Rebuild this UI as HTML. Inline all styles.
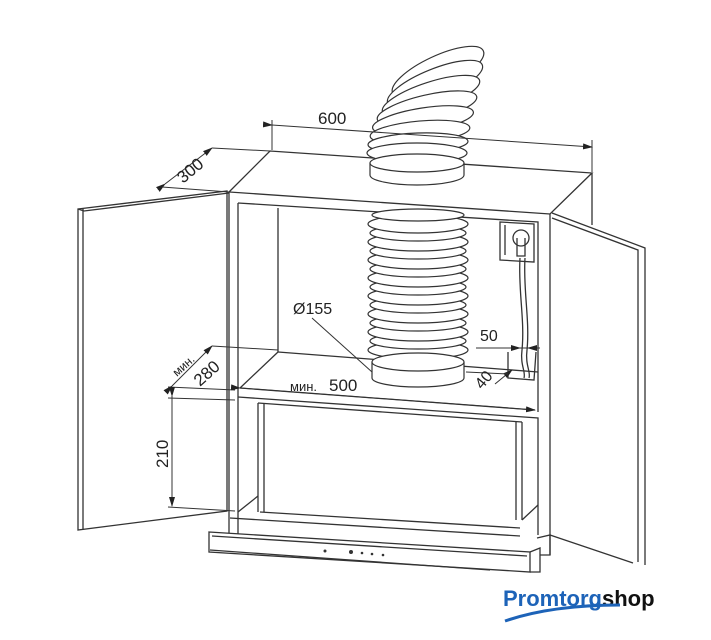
<!DOCTYPE html>
<html><head><meta charset="utf-8"><style>
html,body{margin:0;padding:0;background:#fff;width:711px;height:640px;overflow:hidden}
svg{display:block}
text{font-family:"Liberation Sans",sans-serif;fill:#222}
</style></head><body>
<svg width="711" height="640" viewBox="0 0 711 640" xmlns="http://www.w3.org/2000/svg">
<defs>
<marker id="a" markerWidth="10" markerHeight="6" refX="9" refY="3" orient="auto" markerUnits="userSpaceOnUse"><path d="M0,0 L10,3 L0,6 z" fill="#222"/></marker>
</defs>
<g fill="none" stroke="#333" stroke-width="1.3">
<path d="M229,192 L270,151 L592,173 L550,214 Z" fill="#fff"/>
<path d="M229,192 L229,540"/>
<path d="M550,214 L550,555"/>
<path d="M592,173 L592,225"/>
<path d="M238,203 L538,222 L538,412"/>
<path d="M238,203 L238,540"/>
<path d="M278,208 L278,352"/>
<path d="M278,352 L538,372"/>
<path d="M278,352 L240,388"/>
<path d="M240,388 L535,410"/>
<path d="M238,397 L538,418 L538,535"/>
<path d="M258,403 L258,512"/><path d="M264,403 L264,512"/>
<path d="M258,403 L522,422"/>
<path d="M516,422 L516,520"/><path d="M522,422 L522,520"/>
<path d="M260,512 L520,528" />
<path d="M238,512 L258,496"/>
<path d="M538,505 L522,520"/>
<path d="M209,532 L530,552 L530,572 L209,552 Z" fill="#fff"/>
<path d="M212,536 L527,556"/>
<path d="M210,550 L490,570"/>
<path d="M230,518 L520,536"/>
<path d="M530,552 L540,548 L540,572 L530,572"/>
<path d="M537,538 L550,535 L550,555 L540,555"/>
<path d="M78,209 L227,191 L227,511 L78,530 Z" fill="#fff"/>
<path d="M83,209 L83,530"/>
<path d="M78,209 L84,211 L229,193"/>
<path d="M552,213 L645,248 L645,565"/>
<path d="M552,218 L638,250 L638,562"/>
<path d="M550,535 L633,563"/>
<path d="M500,222 L534,224 L534,262 L500,260 Z"/>
<path d="M505,225 L505,255"/>
<circle cx="521" cy="238" r="8"/>
<path d="M517,238 L517,256 L525,256 L525,238"/>
<path d="M520,258 C518,290 525,320 522,350 C520,365 526,372 524,378"/>
<path d="M525,258 C523,290 530,320 527,350 C525,365 531,372 529,378"/>
<path d="M508,352 L508,378 L534,380 L536,352"/>
</g>
<g fill="#fff" stroke="#333" stroke-width="1.2">
<path d="M372,362 L372,378 A46,9 0 0 0 464,378 L464,362" />
<ellipse cx="418" cy="350" rx="50" ry="9"/>
<ellipse cx="418" cy="341" rx="48" ry="8"/>
<ellipse cx="418" cy="332" rx="50" ry="9"/><ellipse cx="418" cy="323" rx="48" ry="8"/>
<ellipse cx="418" cy="314" rx="50" ry="9"/><ellipse cx="418" cy="305" rx="48" ry="8"/>
<ellipse cx="418" cy="296" rx="50" ry="9"/><ellipse cx="418" cy="287" rx="48" ry="8"/>
<ellipse cx="418" cy="278" rx="50" ry="9"/><ellipse cx="418" cy="269" rx="48" ry="8"/>
<ellipse cx="418" cy="260" rx="50" ry="9"/><ellipse cx="418" cy="251" rx="48" ry="8"/>
<ellipse cx="418" cy="242" rx="50" ry="9"/><ellipse cx="418" cy="233" rx="48" ry="8"/>
<ellipse cx="418" cy="224" rx="50" ry="9"/><ellipse cx="418" cy="215" rx="46" ry="6"/>
<ellipse cx="418" cy="362" rx="46" ry="9"/>
<!-- upper elbow -->
<ellipse cx="438" cy="72" rx="50" ry="16" transform="rotate(-25 438 72)"/>
<ellipse cx="435" cy="84" rx="51" ry="15" transform="rotate(-22 435 84)"/>
<ellipse cx="431" cy="96" rx="51" ry="14" transform="rotate(-18 431 96)"/>
<ellipse cx="427" cy="108" rx="51" ry="13" transform="rotate(-13 427 108)"/>
<ellipse cx="423" cy="120" rx="51" ry="12" transform="rotate(-9 423 120)"/>
<ellipse cx="420" cy="132" rx="50" ry="11" transform="rotate(-5 420 132)"/>
<ellipse cx="418" cy="143" rx="50" ry="10" transform="rotate(-2 418 143)"/>
<ellipse cx="417" cy="153" rx="50" ry="10"/>
<path d="M370,163 L370,175 A47,10 0 0 0 464,175 L464,163" />
<ellipse cx="417" cy="163" rx="47" ry="9"/>
</g>
<g fill="none" stroke="#333" stroke-width="1">
<path d="M272,120 L272,150"/><path d="M592,140 L592,172"/>
<path d="M272,125 L592,147" marker-end="url(#a)" marker-start="url(#a)"/>
<path d="M165,184 L212,148" marker-end="url(#a)" marker-start="url(#a)"/>
<path d="M162,187 L229,192"/><path d="M212,148 L270,151"/>
<path d="M172,386 L212,346" marker-end="url(#a)" marker-start="url(#a)"/>
<path d="M168,387 L235,390"/><path d="M212,346 L278,350"/>
<path d="M168,398 L235,400"/><path d="M168,507 L235,511"/>
<path d="M172,396 L172,506" marker-end="url(#a)" marker-start="url(#a)"/>
<path d="M240,388 L535,410" marker-end="url(#a)" marker-start="url(#a)"/>
<path d="M312,318 L372,372"/>
<path d="M476,348 L535,348"/>
<path d="M508,348 L520,348" marker-end="url(#a)"/>
<path d="M540,348 L528,348" marker-end="url(#a)"/>
<path d="M495,384 L512,370" marker-end="url(#a)"/>
<path d="M466,372 L508,374"/>
</g>
<g fill="#333">
<circle cx="325" cy="551" r="1.5"/><circle cx="351" cy="552" r="2"/><circle cx="362" cy="553" r="1.3"/><circle cx="372" cy="554" r="1.3"/><circle cx="383" cy="555" r="1.3"/>
</g>
<text x="318" y="124" font-size="17">600</text>
<text x="0" y="0" font-size="17" transform="translate(183,184) rotate(-40)">300</text>
<text x="0" y="0" font-size="12" transform="translate(177,377) rotate(-42)">мин.</text>
<text x="0" y="0" font-size="17" transform="translate(200,387) rotate(-42)">280</text>
<text x="0" y="0" font-size="17" transform="translate(168,468) rotate(-90)">210</text>
<text x="290" y="391" font-size="13">мин.</text><text x="329" y="391" font-size="17">500</text>
<text x="293" y="314" font-size="16">Ø155</text>
<text x="480" y="341" font-size="16">50</text>
<text x="0" y="0" font-size="16" transform="translate(482,390) rotate(-50)">40</text>
<text x="503" y="606" font-size="22" font-weight="bold" style="fill:#1d63b8">Promtorg<tspan style="fill:#111">shop</tspan></text>
<path d="M505,621 C540,609 580,605 620,605" stroke="#1d63b8" stroke-width="3" fill="none"/>
</svg>
</body></html>
